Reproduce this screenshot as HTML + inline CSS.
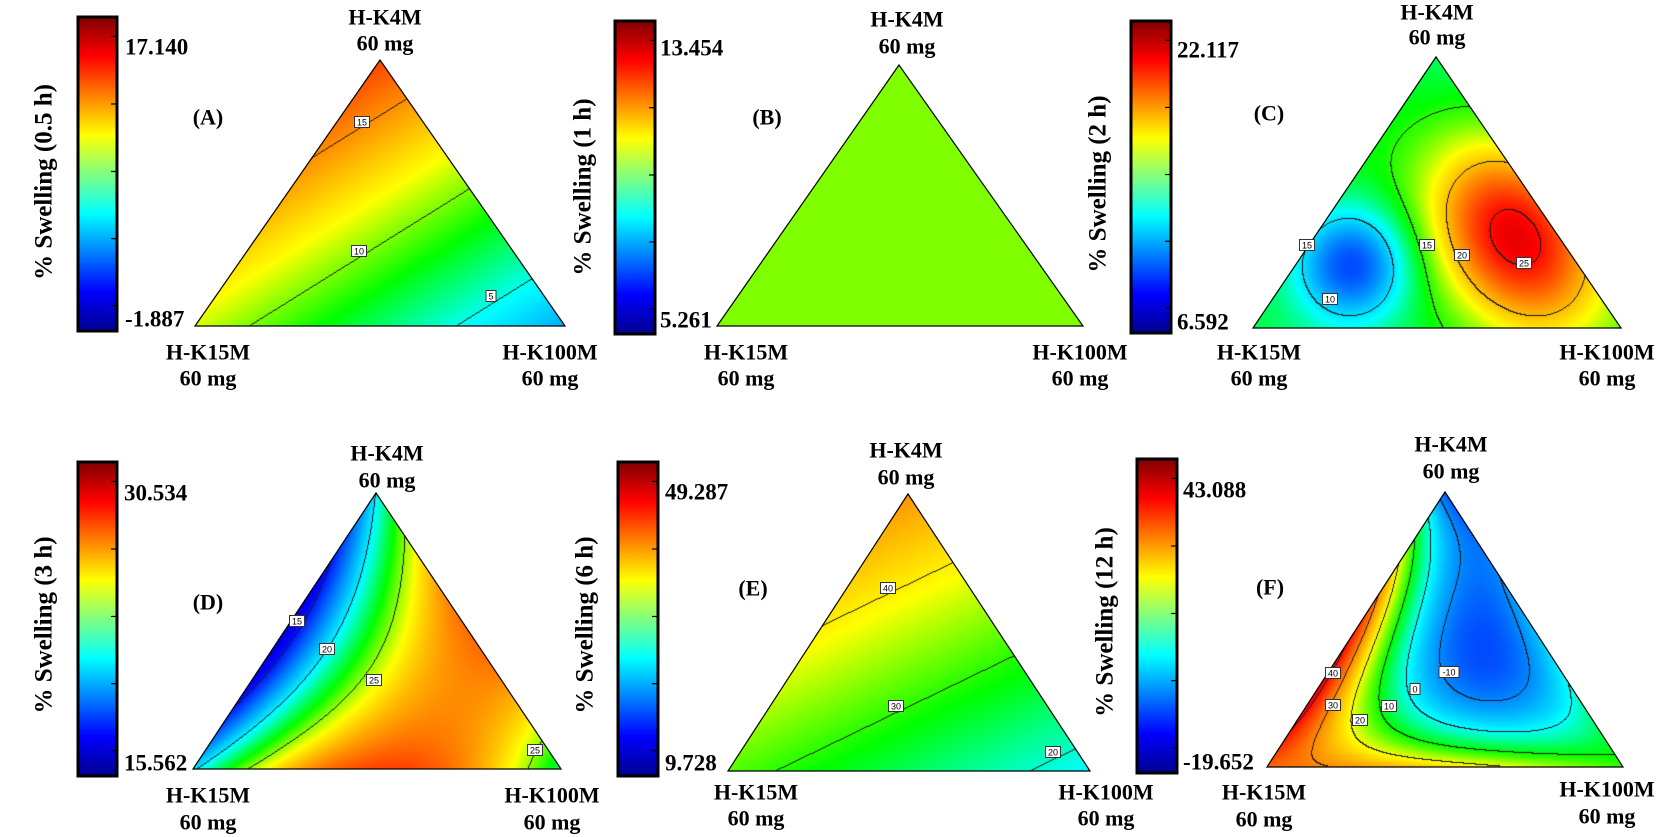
<!DOCTYPE html>
<html>
<head>
<meta charset="utf-8">
<style>
  html,body{margin:0;padding:0;background:#fff;}
  #wrap{position:relative;width:1657px;height:837px;overflow:hidden;background:#fff;}
  #field{position:absolute;left:0;top:0;}
  #overlay{position:absolute;left:0;top:0;}
  text{font-family:"Liberation Serif","DejaVu Serif",serif;font-weight:bold;fill:#000;}
</style>
</head>
<body>
<div id="wrap">
  <canvas id="field" width="1657" height="837"></canvas>
  <svg id="overlay" width="1657" height="837" viewBox="0 0 1657 837" xmlns="http://www.w3.org/2000/svg">
    <defs>
      <linearGradient id="jet" x1="0" y1="1" x2="0" y2="0">
        <stop offset="0" stop-color="#00008f"/>
        <stop offset="0.125" stop-color="#0000ff"/>
        <stop offset="0.375" stop-color="#00ffff"/>
        <stop offset="0.5" stop-color="#80ff80"/>
        <stop offset="0.625" stop-color="#ffff00"/>
        <stop offset="0.875" stop-color="#ff0000"/>
        <stop offset="1" stop-color="#800000"/>
      </linearGradient>
    </defs>
    <g id="panels"></g>
  </svg>
</div>
<script>
// ---------- data (one entry per panel A..F) ----------
const panelLetters = ['(A)','(B)','(C)','(D)','(E)','(F)'];
const responseNames = ['% Swelling (0.5 h)','% Swelling (1 h)','% Swelling (2 h)','% Swelling (3 h)','% Swelling (6 h)','% Swelling (12 h)'];
const designMaxLabels = ['17.140','13.454','22.117','30.534','49.287','43.088'];
const designMinLabels = ['-1.887','5.261','6.592','15.562','9.728','-19.652'];
// Scheffe mixture model coefficients (a = H-K4M, b = H-K15M, c = H-K100M)
const coefK4M   = [17.17, 9.5, 13.0, 20.0, 47.4, -14];
const coefK15M  = [11.33, 9.5, 13.5, 19.5, 31.9, 33];
const coefK100M = [2.39, 9.5, 14.5, 22.0, 17.66, 12];
const coefAB    = [0, 0, 4, -27, 0, 115];
const coefAC    = [0, 0, 0, 35, 0, -19];
const coefBC    = [0, 0, 0, 40, 0, 5];
const coefABC   = [0, 0, 0, 0, 0, -860];
// colour scale domain of each response surface
const colorLo = [-6, 1, 0, 11.4, -13.3, -31.7];
const colorHi = [22.6, 16.1, 29, 35.2, 70, 51.6];
// contour levels
const contourLevels = [[5,10,15], [], [10,15,20,25], [15,20,25], [20,30,40], [-10,0,10,20,30,40]];
// local response features (panel C)
const bumpPanel = [2, 2];
const bumpK4M = [0.339, 0.232];
const bumpK100M = [0.545, 0.153];
const bumpAmp = [12.0, -8.5];
const bumpSigmaMajor = [0.22, 0.13];
const bumpSigmaMinor = [0.15, 0.11];
const bumpAngle = [-67.5, 90];
// contour label texts per panel
const contourLabelTexts = [['15','10','5'], [], ['15','15','20','25','10'], ['15','20','25','25'], ['40','30','20'], ['40','30','20','10','0','-10']];

// ---------- layout (pixel geometry) ----------
const layout = [
  {apex:[380,60], bl:[195,326], br:[565,326], bar:[78,17,39,314], maxY:47, minY:319, labX:125, ylab:[44,182], letter:[208,117],
   top:[385,17,43], left:[208,352,378], right:[550,352,378],
   cl:[[362,122],[359,251],[491,296]]},
  {apex:[899,65], bl:[717,326], br:[1083,326], bar:[615,21,40,313], maxY:48, minY:320, labX:660, ylab:[583,187], letter:[767,117],
   top:[907,19,46], left:[746,352,378], right:[1080,352,378], cl:[]},
  {apex:[1436,57], bl:[1253,328], br:[1621,328], bar:[1131,21,40,312], maxY:50, minY:322, labX:1177, ylab:[1098,184], letter:[1269,113],
   top:[1437,12,37], left:[1259,352,378], right:[1607,352,378],
   cl:[[1307,245],[1427,245],[1462,255],[1524,263],[1330,299]]},
  {apex:[376,493], bl:[193,769], br:[561,769], bar:[78,462,39,314], maxY:493, minY:763, labX:124, ylab:[44,625], letter:[208,602],
   top:[387,453,480], left:[208,795,822], right:[552,795,822],
   cl:[[297,621],[327,649],[374,680],[535,750]]},
  {apex:[908,494], bl:[728,771], br:[1090,771], bar:[618,462,40,314], maxY:492, minY:763, labX:665, ylab:[585,625], letter:[753,588],
   top:[906,450,477], left:[756,792,818], right:[1106,792,818],
   cl:[[888,588],[896,706],[1053,752]]},
  {apex:[1445,492], bl:[1267,767], br:[1623,767], bar:[1137,459,40,314], maxY:490, minY:762, labX:1183, ylab:[1105,622], letter:[1270,587],
   top:[1451,444,471], left:[1264,792,819], right:[1607,789,816],
   cl:[[1333,673],[1333,705],[1360,720],[1389,706],[1415,689],[1449,672]]}
];

// ---------- model ----------
function response(p, a, b, c) {
  let v = coefK4M[p]*a + coefK15M[p]*b + coefK100M[p]*c
        + coefAB[p]*a*b + coefAC[p]*a*c + coefBC[p]*b*c + coefABC[p]*a*b*c;
  const u = c + a/2, w = a*0.8660254;
  for (let i = 0; i < bumpPanel.length; i++) {
    if (bumpPanel[i] !== p) continue;
    const ba = bumpK4M[i], bc = bumpK100M[i];
    const du = u - (bc + ba/2), dw = w - ba*0.8660254;
    const th = bumpAngle[i]*Math.PI/180;
    const pm = du*Math.cos(th) + dw*Math.sin(th);
    const pn = -du*Math.sin(th) + dw*Math.cos(th);
    const r2 = (pm/bumpSigmaMajor[i])**2 + (pn/bumpSigmaMinor[i])**2;
    v += bumpAmp[i]*Math.exp(-r2/2);
  }
  return v;
}
const fieldStops = [[0,0,0,128],[0.125,0,0,255],[0.375,0,255,255],[0.5,0,255,0],[0.625,255,255,0],[0.875,255,0,0],[1,128,0,0]];
function colormap(t) {
  t = Math.max(0, Math.min(1, t));
  for (let i = 1; i < fieldStops.length; i++) {
    if (t <= fieldStops[i][0]) {
      const s0 = fieldStops[i-1], s1 = fieldStops[i];
      const f = (t - s0[0])/(s1[0]-s0[0]);
      return [s0[1]+(s1[1]-s0[1])*f, s0[2]+(s1[2]-s0[2])*f, s0[3]+(s1[3]-s0[3])*f];
    }
  }
  return [128,0,0];
}

// ---------- draw fields ----------
const cv = document.getElementById('field');
const ctx = cv.getContext('2d');
const img = ctx.createImageData(1657, 837);
const D = img.data;
for (let i = 0; i < D.length; i += 4) { D[i]=255; D[i+1]=255; D[i+2]=255; D[i+3]=255; }
layout.forEach((L, p) => {
  const [x1,y1] = L.apex, [x2,y2] = L.bl, [x3,y3] = L.br;
  const det = (y2-y3)*(x1-x3) + (x3-x2)*(y1-y3);
  const minX = Math.floor(Math.min(x1,x2,x3)), maxX = Math.ceil(Math.max(x1,x2,x3));
  const minY = Math.floor(Math.min(y1,y2,y3)), maxY = Math.ceil(Math.max(y1,y2,y3));
  const W = maxX-minX+1, H = maxY-minY+1;
  const vals = new Float32Array(W*H).fill(NaN);
  for (let py = minY; py <= maxY; py++) for (let px = minX; px <= maxX; px++) {
    const x = px+0.5, y = py+0.5;
    const a = ((y2-y3)*(x-x3) + (x3-x2)*(y-y3))/det;
    const b = ((y3-y1)*(x-x3) + (x1-x3)*(y-y3))/det;
    const c = 1-a-b;
    if (a < -0.001 || b < -0.001 || c < -0.001) continue;
    vals[(py-minY)*W + (px-minX)] = response(p, Math.max(a,0), Math.max(b,0), Math.max(c,0));
  }
  const lv = contourLevels[p];
  const cnt = v => { let k = 0; for (const l of lv) if (v > l) k++; return k; };
  for (let j = 0; j < H; j++) for (let i = 0; i < W; i++) {
    const v = vals[j*W+i];
    if (isNaN(v)) continue;
    let col = colormap((v - colorLo[p])/(colorHi[p]-colorLo[p]));
    const k = cnt(v);
    let edge = false;
    if (i+1 < W && !isNaN(vals[j*W+i+1]) && cnt(vals[j*W+i+1]) !== k) edge = true;
    if (j+1 < H && !isNaN(vals[(j+1)*W+i]) && cnt(vals[(j+1)*W+i]) !== k) edge = true;
    if (edge) col = [25,25,25];
    const idx = ((j+minY)*1657 + (i+minX))*4;
    D[idx] = col[0]; D[idx+1] = col[1]; D[idx+2] = col[2];
  }
});
ctx.putImageData(img, 0, 0);

// ---------- overlay ----------
const NS = 'http://www.w3.org/2000/svg';
const root = document.getElementById('panels');
function mk(tag, attrs, parent, txt) {
  const e = document.createElementNS(NS, tag);
  for (const k in attrs) e.setAttribute(k, attrs[k]);
  if (txt !== undefined) e.textContent = txt;
  parent.appendChild(e);
  return e;
}
const tickFracs = [0.062, 0.277, 0.492, 0.706, 0.919];
layout.forEach((L, p) => {
  const g = mk('g', {}, root);
  
  
  const tri = mk('polygon', {points: [L.apex, L.bl, L.br].map(q => q.join(',')).join(' '), fill: 'none', stroke: '#000', 'stroke-width': 1.2}, g);
  
  
  const [bx, by, bw, bh] = L.bar;
  const bar = mk('rect', {x: bx, y: by, width: bw, height: bh, fill: 'url(#jet)', stroke: '#000', 'stroke-width': 3}, g);
  
  
  tickFracs.forEach(f => {
    const t = mk('line', {x1: bx+bw-6, x2: bx+bw, y1: by+f*bh, y2: by+f*bh, stroke: '#000', 'stroke-width': 1.2}, g);
    
    
  });
  const mx = mk('text', {x: L.labX, y: L.maxY, 'font-size': 23, 'dominant-baseline': 'central'}, g, designMaxLabels[p]);
  
  
  const mn = mk('text', {x: L.labX, y: L.minY, 'font-size': 23, 'dominant-baseline': 'central'}, g, designMinLabels[p]);
  
  
  const yt = mk('text', {x: L.ylab[0], y: L.ylab[1], 'font-size': 25, 'text-anchor': 'middle', 'dominant-baseline': 'central', transform: `rotate(-90 ${L.ylab[0]} ${L.ylab[1]})`}, g, responseNames[p]);
  
  
  const lt = mk('text', {x: L.letter[0], y: L.letter[1], 'font-size': 22, 'text-anchor': 'middle', 'dominant-baseline': 'central'}, g, panelLetters[p]);
  
  
  [['top','H-K4M'],['left','H-K15M'],['right','H-K100M']].forEach(([key, name]) => {
    const q = L[key];
    const t1 = mk('text', {x: q[0], y: q[1], 'font-size': 22, 'text-anchor': 'middle', 'dominant-baseline': 'central'}, g, name);
    
    
    const t2 = mk('text', {x: q[0], y: q[2], 'font-size': 22, 'text-anchor': 'middle', 'dominant-baseline': 'central'}, g, '60 mg');
    
    
  });
  L.cl.forEach((q, i) => {
    const txt = contourLabelTexts[p][i];
    const w = 5 + txt.length*5;
    const r = mk('rect', {x: q[0]-w/2, y: q[1]-5.5, width: w, height: 11, fill: '#fff', stroke: '#333', 'stroke-width': 1}, g);
    
    
    const t = mk('text', {x: q[0], y: q[1]+0.5, 'font-size': 9, 'text-anchor': 'middle', 'dominant-baseline': 'central', style: 'font-family:"Liberation Sans",sans-serif;font-weight:normal'}, g, txt);
    
    
  });
});
</script>
</body>
</html>
